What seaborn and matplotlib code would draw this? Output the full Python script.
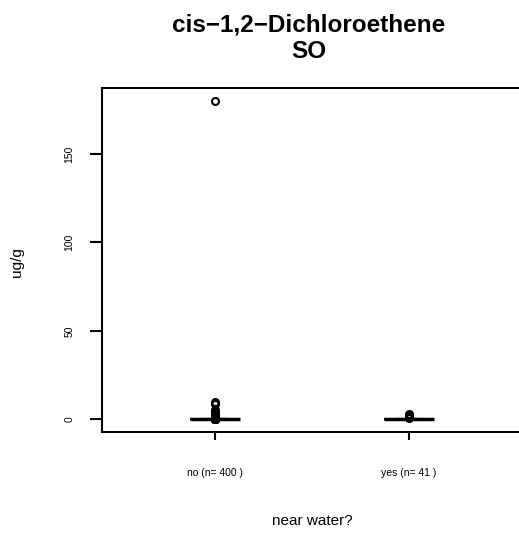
import numpy as np
import pandas as pd
import matplotlib
matplotlib.use("Agg")
import matplotlib.pyplot as plt
import seaborn as sns

# values (ug/g), with how often each one occurs
groups = ["no", "yes"]
group_labels = ["no (n= 400 )", "yes (n= 41 )"]

no_values = [0.001, 0.002, 0.005, 0.01, 0.02, 0.03,
             0.3, 0.5, 0.8, 1.2, 1.5, 2.0, 2.5, 3.0, 3.5, 4.5, 5.0, 8.5, 10.0, 180.0]
no_counts = [60, 90, 110, 80, 30, 16,
             1, 1, 1, 1, 1, 1, 1, 1, 1, 1, 1, 1, 1, 1]

yes_values = [0.001, 0.002, 0.005, 0.01, 0.02, 0.5, 1.0, 1.5, 2.0, 2.5, 3.0]
yes_counts = [6, 10, 10, 6, 3, 1, 1, 1, 1, 1, 1]

df = pd.DataFrame({
    "near_water": ["no"] * sum(no_counts) + ["yes"] * sum(yes_counts),
    "value": np.concatenate([np.repeat(no_values, no_counts),
                             np.repeat(yes_values, yes_counts)]),
})

sns.set_style("white")
plt.rcParams["font.family"] = ["Liberation Sans", "DejaVu Sans"]
plt.rcParams["text.color"] = "black"
plt.rcParams["xtick.color"] = "black"
plt.rcParams["ytick.color"] = "black"

fig = plt.figure(figsize=(5.19, 5.33), dpi=100)
ax = fig.add_axes([102 / 519, 101 / 533, 438 / 519, 344 / 533])

sns.boxplot(data=df, x="near_water", y="value", order=groups, ax=ax,
            width=0.26, color="white", linecolor="black", linewidth=1.5,
            whis=1.5,
            medianprops=dict(linewidth=2.5, color="black"),
            flierprops=dict(marker="o", markerfacecolor="none",
                            markeredgecolor="black", markersize=5,
                            markeredgewidth=1.5))

ax.set_xlim(-0.582, 1.675)
ax.set_ylim(-7.2, 187.2)
ax.set_yticks([0, 50, 100, 150])
ax.set_yticklabels(["0", "50", "100", "150"], rotation=90, va="center", fontsize=7.5)
ax.set_xticks([0, 1])
ax.set_xticklabels(group_labels, fontsize=7.5)
ax.tick_params(axis="y", length=9, width=1.5, pad=11, direction="out", left=True)
ax.tick_params(axis="x", length=6, width=1.5, pad=20, direction="out", bottom=True)

for side in ["left", "bottom", "top"]:
    ax.spines[side].set_visible(True)
    ax.spines[side].set_color("black")
    ax.spines[side].set_linewidth(1.5)
ax.spines["right"].set_visible(False)

ax.set_xlabel("")
ax.set_ylabel("")
fig.text(17 / 519, 1 - 262 / 533, "ug/g", rotation=90, ha="center", va="center", fontsize=11)
fig.text(312 / 519, 1 - 521 / 533, "near water?", ha="center", va="center", fontsize=11)
fig.text(309 / 519, 1 - 25 / 533, "cis\u22121,2\u2212Dichloroethene",
         ha="center", va="center", fontsize=17.5, fontweight="bold")
fig.text(309 / 519, 1 - 51 / 533, "SO",
         ha="center", va="center", fontsize=17.5, fontweight="bold")

fig.savefig("out.png", dpi=100)
